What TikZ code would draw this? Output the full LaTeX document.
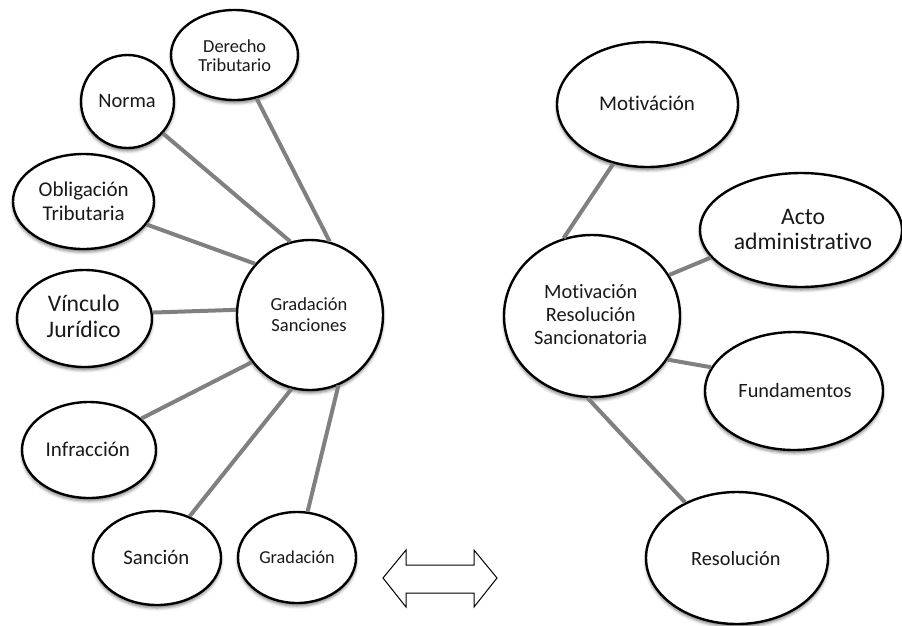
\documentclass[tikz,border=0pt]{standalone}
\usepackage{fontspec}
\setmainfont{Carlito}[Ligatures=NoCommon]
\usetikzlibrary{shapes.geometric,shadows.blur}

\tikzset{
  bubble/.style={ellipse, draw=black, line width=2.4pt, fill=white, inner sep=0pt,
    blur shadow={shadow xshift=0pt, shadow yshift=-3pt, shadow blur radius=3pt, shadow opacity=50}},
  link/.style={draw=black!50, line width=4pt},
  lbl/.style={anchor=base, inner sep=0pt, text=black!90},
}
\newcommand{\fs}[1]{\fontsize{#1}{#1}\selectfont}

\begin{document}
\begin{tikzpicture}[x=1pt, y=-1pt]
\useasboundingbox (0,0) rectangle (902,625);

% left cluster
\node[bubble, minimum width=127pt, minimum height=90pt]  (der)   at (234.5,55)  {};
\node[bubble, minimum width=93pt,  minimum height=93pt]  (norma) at (127.5,101.5) {};
\node[bubble, minimum width=141pt, minimum height=95pt]  (obl)   at (83.5,201.5) {};
\node[bubble, minimum width=135pt, minimum height=97pt]  (vin)   at (84.5,318.5) {};
\node[bubble, minimum width=146pt, minimum height=150pt] (gs)    at (310,315)   {};
\node[bubble, minimum width=134pt, minimum height=96pt]  (inf)   at (89,450)    {};
\node[bubble, minimum width=128pt, minimum height=94pt]  (san)   at (157,558)   {};
\node[bubble, minimum width=118pt, minimum height=91pt]  (gra)   at (297,557.5) {};

% right cluster
\node[bubble, minimum width=181pt, minimum height=125pt] (mot)  at (647.5,104.5) {};
\node[bubble, minimum width=202pt, minimum height=114pt] (acto) at (801,230)     {};
\node[bubble, minimum width=176pt, minimum height=162pt] (mrs)  at (592,316)     {};
\node[bubble, minimum width=178pt, minimum height=118pt] (fun)  at (794,391)     {};
\node[bubble, minimum width=182pt, minimum height=132pt] (res)  at (737,558)     {};

% connectors
\draw[link] (der.-63)   -- (gs.75);
\draw[link] (norma.-42) -- (gs.105);
\draw[link] (obl.-20)   -- (gs.137);
\draw[link] (vin.5)     -- (gs.176);
\draw[link] (inf.31)    -- (gs.219);
\draw[link] (san.52)    -- (gs.256);
\draw[link] (gra.77)    -- (gs.-68);
\draw[link] (mot.240)   -- (mrs.110);
\draw[link] (acto.197)  -- (mrs.28);
\draw[link] (fun.164)   -- (mrs.-30);
\draw[link] (res.133)   -- (mrs.-93);

% labels
\node[lbl, font=\fs{18.4}] (derA) at (234.7,52)  {Derecho};
\node[lbl, font=\fs{18.4}] (derB) at (234.7,71)  {Tributario};
\node[lbl, font=\fs{20.5}] (normaA) at (127,107.7) {Norma};
\node[lbl, font=\fs{21}]   (oblA) at (83.7,196.5) {Obligación};
\node[lbl, font=\fs{21}]   (oblB) at (83.7,220)   {Tributaria};
\node[lbl, font=\fs{23.7}] (vinA) at (83.7,311.7) {Vínculo};
\node[lbl, font=\fs{23.7}] (vinB) at (83.7,337.3) {Jurídico};
\node[lbl, font=\fs{18.5}] (gsA)  at (309,310)   {Gradación};
\node[lbl, font=\fs{18.5}] (gsB)  at (309,331)   {Sanciones};
\node[lbl, font=\fs{21}]   (infA) at (87.8,456)  {Infracción};
\node[lbl, font=\fs{20.8}] (sanA) at (156.3,564) {Sanción};
\node[lbl, font=\fs{18.2}] (graA) at (297,563)   {Gradación};

\node[lbl, font=\fs{21}]   (motA)  at (647,110)   {Motiváción};
\node[lbl, font=\fs{23.7}] (actoA) at (803,224)   {Acto};
\node[lbl, font=\fs{23.7}] (actoB) at (803,249)   {administrativo};
\node[lbl, font=\fs{20.4}] (mrsA)  at (590.7,298) {Motivación};
\node[lbl, font=\fs{20.4}] (mrsB)  at (590.7,321) {Resolución};
\node[lbl, font=\fs{20.4}] (mrsC)  at (590.7,344) {Sancionatoria};
\node[lbl, font=\fs{20.3}] (funA)  at (795,397)   {Fundamentos};
\node[lbl, font=\fs{20.3}] (resA)  at (735.8,565) {Resolución};

% two-headed block arrow
\draw[line width=1pt, fill=white]
  (383,578) -- (406,550) -- (406,565) -- (474,565) -- (474,550) -- (497,578)
  -- (474,607) -- (474,593) -- (406,593) -- (406,607) -- cycle;
\end{tikzpicture}
\end{document}
